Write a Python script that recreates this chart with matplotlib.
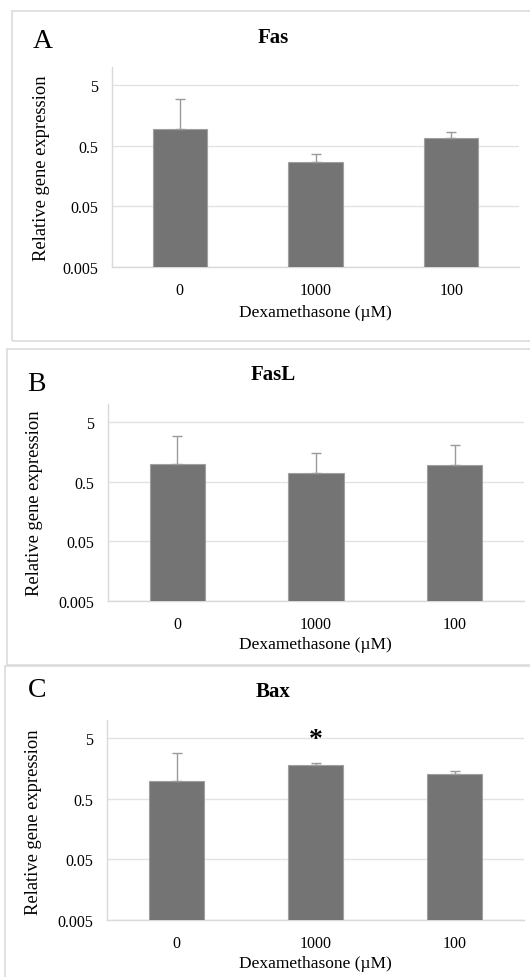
import matplotlib
matplotlib.use("Agg")
import matplotlib.pyplot as plt
from matplotlib.patches import Rectangle

plt.rcParams["font.family"] = ["Liberation Serif", "DejaVu Serif"]

# data
doses = ["0", "1000", "100"]
genes = ["Fas", "FasL", "Bax"]
letters = ["A", "B", "C"]
fas_mean = [0.96, 0.27, 0.67]
fas_err = [2.04, 0.10, 0.19]
fasl_mean = [1.0, 0.70, 0.94]
fasl_err = [1.95, 0.80, 1.12]
bax_mean = [0.99, 1.78, 1.28]
bax_err = [1.89, 0.14, 0.14]
yticks = [0.005, 0.05, 0.5, 5]
ytick_labels = ["0.005", "0.05", "0.5", "5"]

W, H = 530, 978
fig = plt.figure(figsize=(W / 100, H / 100), dpi=100)
fig.patch.set_facecolor("white")


def px_axes(l, t, r, b):
    return fig.add_axes([l / W, 1 - b / H, (r - l) / W, (b - t) / H])


def ftext(x, y, s, **kw):
    fig.text(x / W, 1 - y / H, s, ha="center", va="center", **kw)


# panel layout in pixels: box, axes, letter, title, ylabel, xlabel
panels = [
    dict(box=(12, 12, 540, 342), ax=(112, 68, 519, 268), letter=(43, 42), title=(273, 38),
         ylab=(42, 168), xlab=(315, 313)),
    dict(box=(7, 350, 540, 666), ax=(108, 405, 524, 602), letter=(36, 385), title=(273, 375),
         ylab=(35, 503), xlab=(315, 645)),
    dict(box=(5, 667, 540, 995), ax=(107, 721, 524, 921), letter=(37, 691), title=(273, 692),
         ylab=(34, 822), xlab=(315, 964)),
]
means = [fas_mean, fasl_mean, bax_mean]
errs = [fas_err, fasl_err, bax_err]

for i, p in enumerate(panels):
    bl, bt, br, bb = p["box"]
    fig.patches.append(Rectangle((bl / W, 1 - bb / H), (br - bl) / W, (bb - bt) / H,
                                 transform=fig.transFigure, fill=False,
                                 edgecolor="#dcdcdc", linewidth=1.2))
    ax = px_axes(*p["ax"])
    x = range(len(doses))
    ax.bar(x, means[i], width=0.4, color="#747474", edgecolor="#a0a0a0", linewidth=0.8,
           zorder=3)
    ax.errorbar(x, means[i], yerr=[[0] * 3, errs[i]], fmt="none", ecolor="#9a9a9a",
                elinewidth=1.0, capsize=3.5, capthick=1.0, zorder=4)
    ax.set_yscale("log")
    ax.set_ylim(0.005, 10)
    ax.set_xlim(-0.5, 2.5)
    ax.set_yticks(yticks)
    ax.set_yticklabels(ytick_labels)
    ax.minorticks_off()
    ax.set_xticks(list(x))
    ax.set_xticklabels(doses)
    ax.tick_params(axis="both", length=0, labelsize=11.5)
    ax.tick_params(axis="y", pad=10)
    ax.tick_params(axis="x", pad=11)
    ax.grid(axis="y", color="#e3e3e3", linewidth=1.0, zorder=0)
    for s in ["top", "right"]:
        ax.spines[s].set_visible(False)
    ax.spines["left"].set_color("#d9d9d9")
    ax.spines["bottom"].set_color("#d9d9d9")
    ax.spines["left"].set_linewidth(1.0)
    ax.spines["bottom"].set_linewidth(1.0)

    ftext(*p["letter"], letters[i], fontsize=20)
    ftext(*p["title"], genes[i], fontsize=15, fontweight="bold")
    ftext(*p["ylab"], "Relative gene expression", fontsize=13.3, rotation=90)
    ftext(*p["xlab"], "Dexamethasone (µM)", fontsize=12.5)

    if genes[i] == "Bax":
        ax.text(1, bax_mean[1] * 2.7, "*", ha="center", va="center", fontsize=20,
                fontweight="bold")

fig.savefig("out.png", dpi=100)
